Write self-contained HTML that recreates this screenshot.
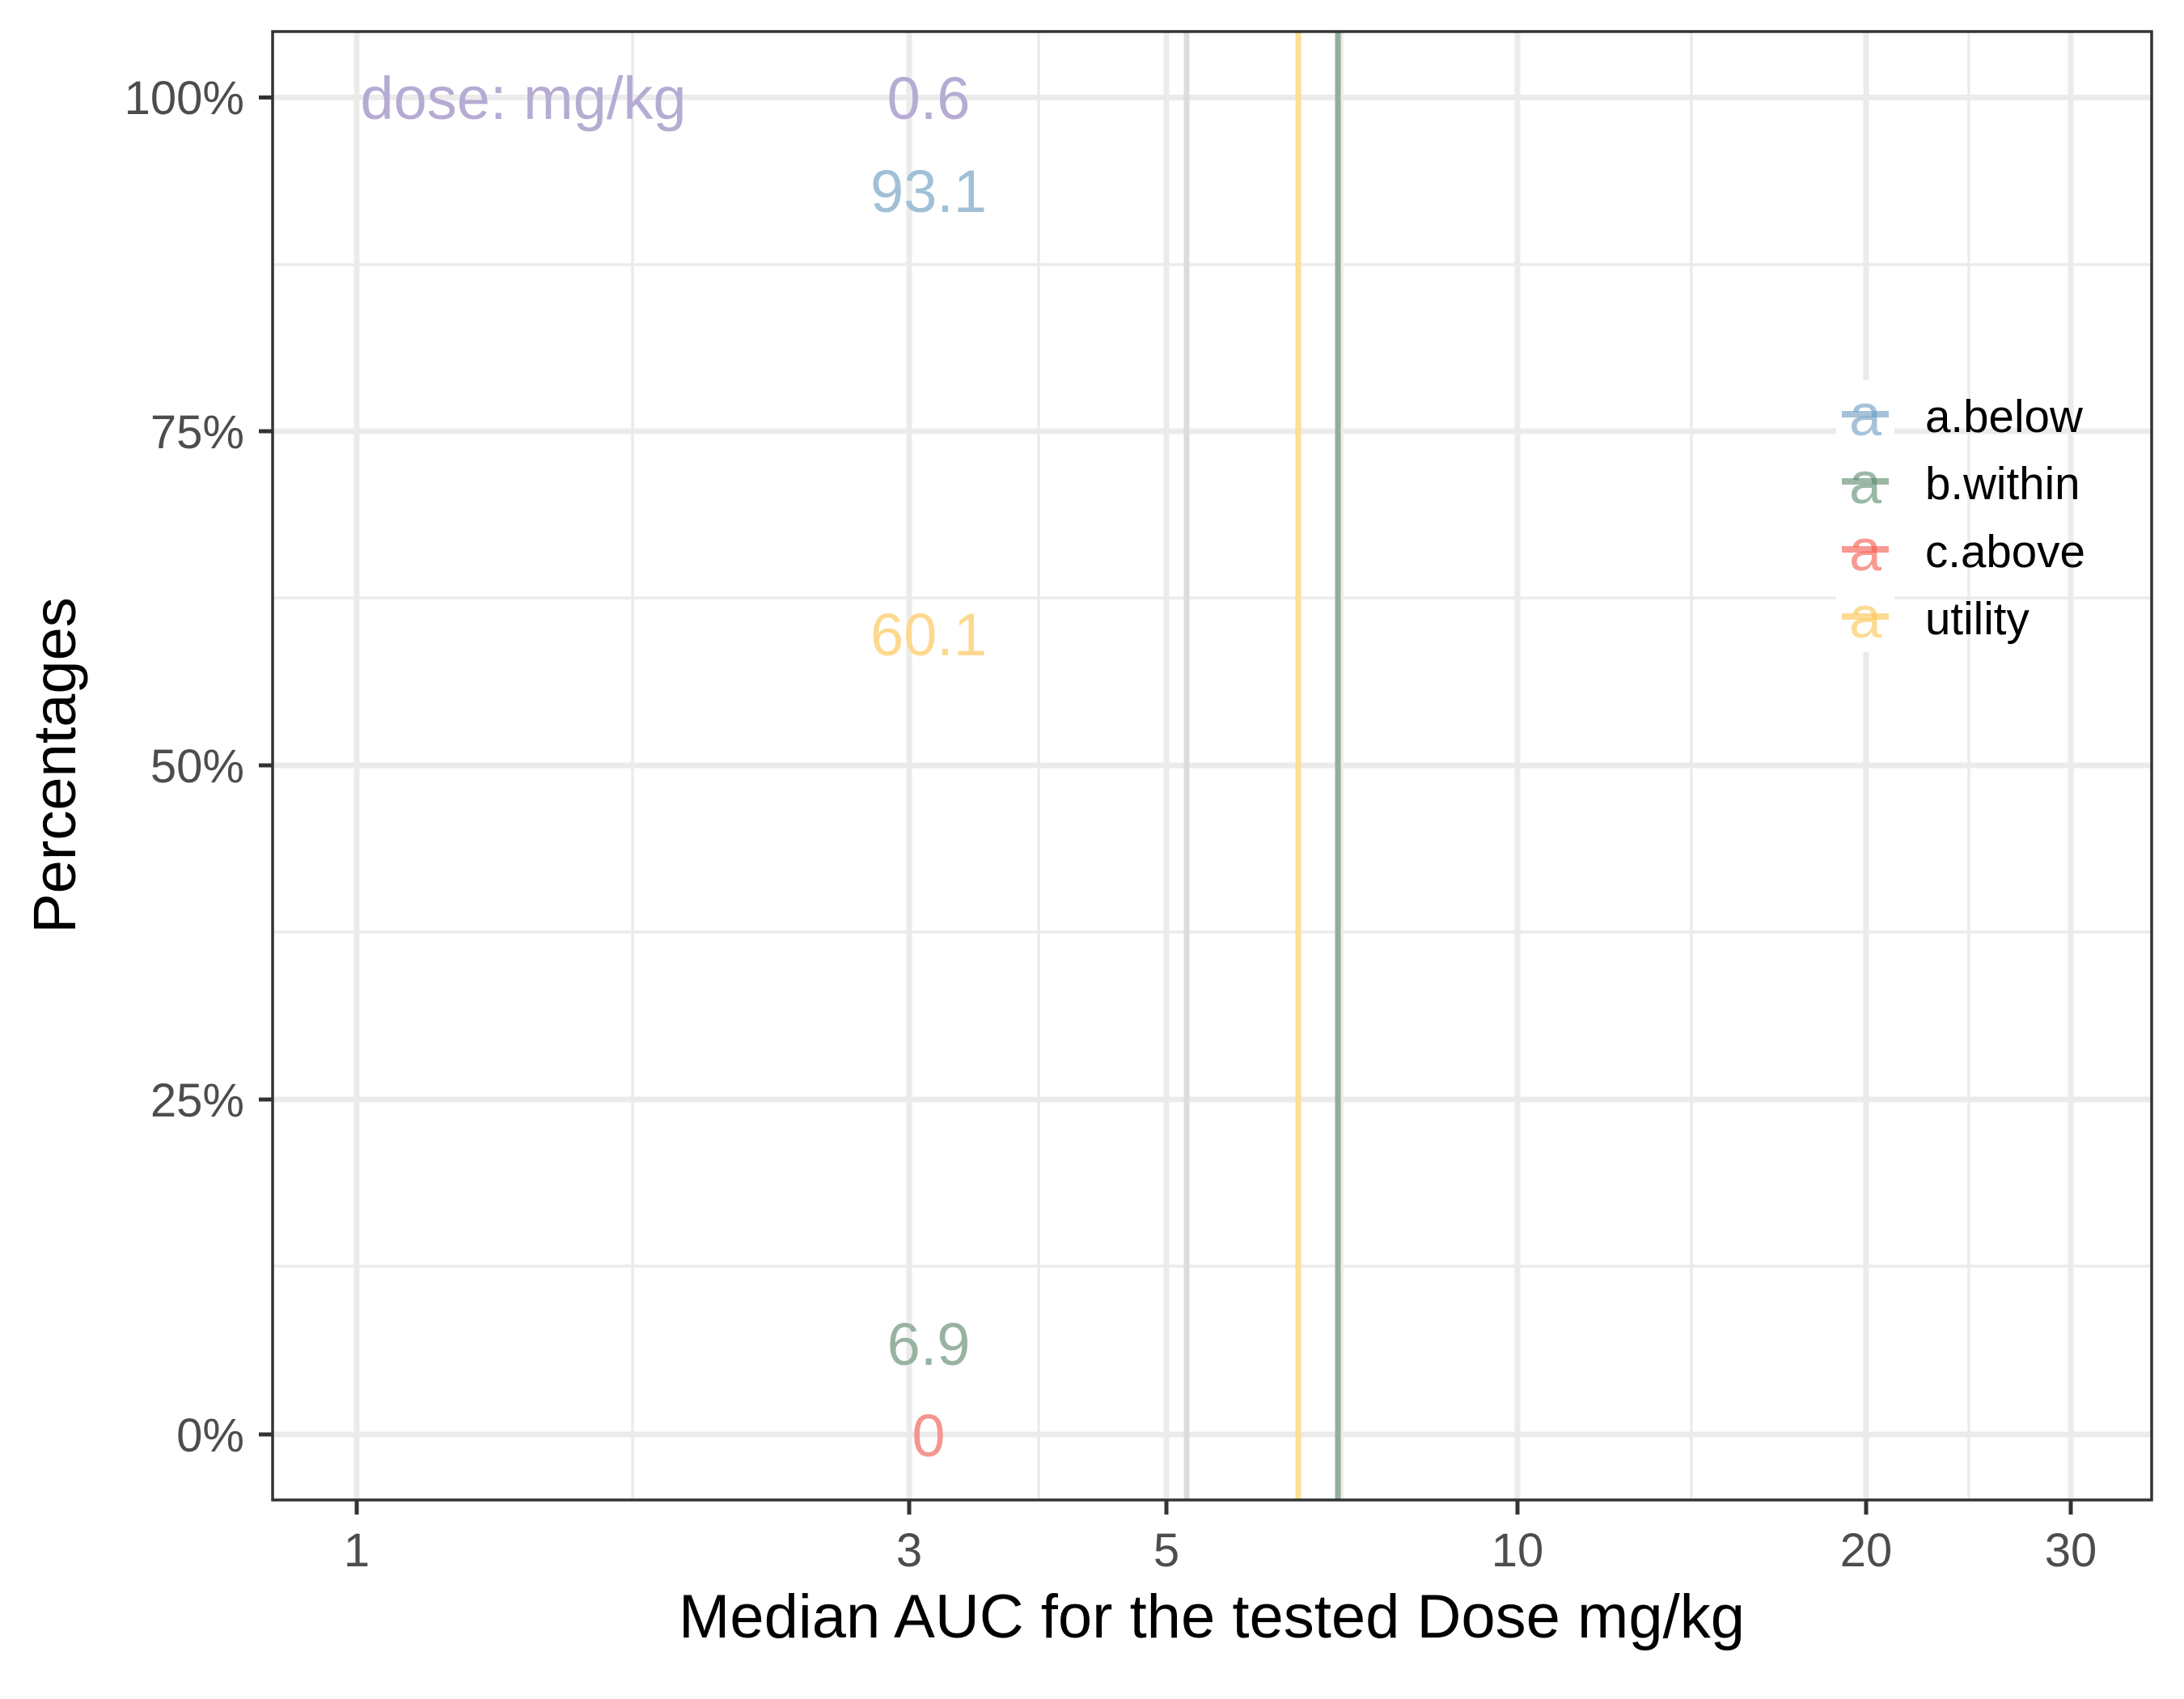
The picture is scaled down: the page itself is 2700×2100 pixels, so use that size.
<!DOCTYPE html>
<html><head><meta charset="utf-8"><style>html,body{margin:0;padding:0;background:#fff}svg{display:block}</style></head>
<body>
<svg width="2700" height="2100" viewBox="0 0 2700 2100" xmlns="http://www.w3.org/2000/svg" font-family="Liberation Sans, Arial, sans-serif">
<rect width="2700" height="2100" fill="#fff"/>
<g stroke="#ebebeb" stroke-width="3.5">
<line x1="337" x2="2660" y1="327" y2="327"/>
<line x1="337" x2="2660" y1="739" y2="739"/>
<line x1="337" x2="2660" y1="1152" y2="1152"/>
<line x1="337" x2="2660" y1="1565" y2="1565"/>
<line x1="782" x2="782" y1="39" y2="1854"/>
<line x1="1284" x2="1284" y1="39" y2="1854"/>
<line x1="1659" x2="1659" y1="39" y2="1854"/>
<line x1="2091" x2="2091" y1="39" y2="1854"/>
<line x1="2434" x2="2434" y1="39" y2="1854"/>
</g>
<g stroke="#ebebeb" stroke-width="7">
<line x1="337" x2="2660" y1="120.5" y2="120.5"/>
<line x1="337" x2="2660" y1="533" y2="533"/>
<line x1="337" x2="2660" y1="946" y2="946"/>
<line x1="337" x2="2660" y1="1359" y2="1359"/>
<line x1="337" x2="2660" y1="1773" y2="1773"/>
<line x1="441" x2="441" y1="39" y2="1854"/>
<line x1="1124" x2="1124" y1="39" y2="1854"/>
<line x1="1442" x2="1442" y1="39" y2="1854"/>
<line x1="1876" x2="1876" y1="39" y2="1854"/>
<line x1="2307" x2="2307" y1="39" y2="1854"/>
<line x1="2560" x2="2560" y1="39" y2="1854"/>
</g>
<line x1="1467" x2="1467" y1="39" y2="1854" stroke="#dcdcdc" stroke-width="7"/>
<line x1="1605" x2="1605" y1="39" y2="1854" stroke="#fddf96" stroke-width="7"/>
<line x1="1654" x2="1654" y1="39" y2="1854" stroke="#93ad9a" stroke-width="7"/>
<g font-size="74" text-anchor="middle">
<text x="647" y="147" fill="#b5abd3">dose: mg/kg</text>
<text x="1148" y="147" fill="#b5abd3">0.6</text>
<text x="1148" y="262" fill="#a0c0d6">93.1</text>
<text x="1148" y="810" fill="#fdd98f">60.1</text>
<text x="1148" y="1687" fill="#98b3a1">6.9</text>
<text x="1148" y="1800" fill="#f4968f">0</text>
</g>
<rect x="337" y="39" width="2323" height="1815" fill="none" stroke="#333" stroke-width="3.5"/>
<g stroke="#333" stroke-width="5">
<line x1="320" x2="337" y1="120.5" y2="120.5"/>
<line x1="320" x2="337" y1="533" y2="533"/>
<line x1="320" x2="337" y1="946" y2="946"/>
<line x1="320" x2="337" y1="1359" y2="1359"/>
<line x1="320" x2="337" y1="1773" y2="1773"/>
<line x1="441" x2="441" y1="1854" y2="1872"/>
<line x1="1124" x2="1124" y1="1854" y2="1872"/>
<line x1="1442" x2="1442" y1="1854" y2="1872"/>
<line x1="1876" x2="1876" y1="1854" y2="1872"/>
<line x1="2307" x2="2307" y1="1854" y2="1872"/>
<line x1="2560" x2="2560" y1="1854" y2="1872"/>
</g>
<g font-size="58" fill="#4d4d4d" text-anchor="end">
<text x="302" y="141">100%</text>
<text x="302" y="554">75%</text>
<text x="302" y="967">50%</text>
<text x="302" y="1380">25%</text>
<text x="302" y="1794">0%</text>
</g>
<g font-size="58" fill="#4d4d4d" text-anchor="middle">
<text x="441" y="1936">1</text>
<text x="1124" y="1936">3</text>
<text x="1442" y="1936">5</text>
<text x="1876" y="1936">10</text>
<text x="2307" y="1936">20</text>
<text x="2560" y="1936">30</text>
</g>
<text x="1498" y="2024" font-size="76" text-anchor="middle" fill="#000">Median AUC for the tested Dose mg/kg</text>
<text transform="translate(93,946) rotate(-90)" font-size="74" text-anchor="middle" fill="#000">Percentages</text>
<g>
<rect x="2270" y="470" width="72" height="84" fill="#fff"/>
<rect x="2270" y="554" width="72" height="84" fill="#fff"/>
<rect x="2270" y="638" width="72" height="84" fill="#fff"/>
<rect x="2270" y="722" width="72" height="84" fill="#fff"/>
<g font-size="72" text-anchor="middle" opacity="0.6">
<text x="2306" y="538" fill="#6a9bc3">a</text>
<text x="2306" y="622" fill="#5a8a6e">a</text>
<text x="2306" y="705" fill="#f4574a">a</text>
<text x="2306" y="788" fill="#fdc44f">a</text>
</g>
<g stroke-width="8" opacity="0.6">
<line x1="2277" x2="2335" y1="512" y2="512" stroke="#6a9bc3"/>
<line x1="2277" x2="2335" y1="595" y2="595" stroke="#5a8a6e"/>
<line x1="2277" x2="2335" y1="679" y2="679" stroke="#f4574a"/>
<line x1="2277" x2="2335" y1="762" y2="762" stroke="#fdc44f"/>
</g>
<g font-size="56.5" fill="#000">
<text x="2380" y="534">a.below</text>
<text x="2380" y="617">b.within</text>
<text x="2380" y="701">c.above</text>
<text x="2380" y="784">utility</text>
</g>
</g>
</svg>
</body></html>
